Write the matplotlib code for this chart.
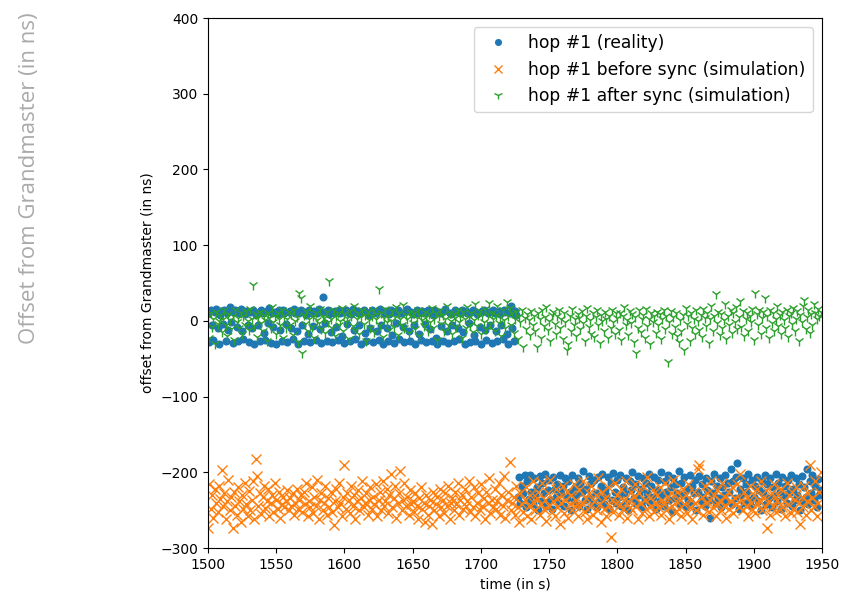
import matplotlib
matplotlib.use("Agg")
import matplotlib.pyplot as plt

# ---- data ----
t_start, t_end = 1500, 1950
times = list(range(t_start, t_end))

reality = [
    # 1500-1726 (around 0)
    10, -28, 14, -6, -25, 12, 16, -10, -30, 8, 13, -4, 15, -27, 11, -12, 18, -2, -29, 12, 14, -8, -26, 10, 16, -14, -24, 9, 13, -5,
    -28, 12, -10, 15, -30, 8, 11, -6, -27, 14, 10, -16, -25, 13, -3, 17, -29, 11, -8, 12, -31, 9, 14, -12, -26, 15, 10, -4, -28, 12,
    13, -9, -24, 16, 11, -14, -30, 10, 14, -5, -27, 12, 8, -18, 15, -28, 11, -7, 13, -25, 10, 16, -11, -29, 32, 12, -3, -26, 14, 9,
    -15, -28, 11, 13, -8, -25, 15, 10, -20, 12, -29, 14, -4, 11, -27, 9, 16, -12, -24, 13, 10, -6, -30, 12, 15, -16, -26, 11, 8, -9,
    14, -28, 12, 10, -13, -25, 16, -5, -31, 11, 13, -10, -27, 9, 15, -19, -29, 12, -3, 14, -24, 10, 11, -8, -28, 13, 16, -14, -26, 12,
    9, -6, -30, 14, 11, -17, -25, 13, 10, -4, -28, 15, 12, -11, -27, 8, 14, -22, -31, 12, 10, -7, -26, 13, 16, -13, -29, 11, 9, -5,
    -27, 14, 12, -10, -24, 11, 15, -15, -30, 13, 10, -3, -28, 12, 14, -19, -26, 9, 11, -8, -31, 13, 15, -12, -25, 10, 12, -6, -29, 14,
    11, -14, -27, 13, 9, -5, -24, 15, 12, -18, -30, 10, 20, -9, -26, 13, 8,
    # 1727-1949 (around -222)
    -232, -206, -240, -218, -228, -203, -246, -212, -235, -204, -226, -242, -208, -230, -220, -250, -205, -238, -214, -228, -202, -244, -224, -210, -236, -248, -206, -222, -232, -215,
    -240, -204, -228, -218, -245, -207, -234, -212, -226, -250, -203, -238, -220, -230, -208, -244, -216, -226, -198, -236, -222, -248, -205, -232, -214, -240, -210, -228, -246, -206,
    -234, -218, -202, -242, -224, -230, -206, -248, -214, -236, -201, -226, -240, -210, -232, -204, -244, -220, -228, -207, -238, -250, -212, -224, -199, -234, -216, -242, -205, -230,
    -222, -246, -208, -236, -214, -228, -202, -240, -218, -232, -206, -248, -224, -210, -238, -200, -230, -244, -212, -226, -204, -236, -220, -252, -208, -234, -216, -228, -198, -242,
    -214, -230, -206, -246, -222, -236, -203, -240, -218, -228, -210, -250, -226, -205, -238, -215, -232, -244, -207, -224, -236, -260, -212, -228, -202, -240, -218, -234, -208, -246,
    -220, -230, -204, -238, -214, -226, -196, -242, -212, -234, -206, -188, -248, -222, -230, -208, -240, -216, -226, -202, -236, -244, -210, -232, -218, -206, -238, -224, -250, -212,
    -228, -204, -242, -216, -234, -208, -246, -220, -230, -202, -238, -214, -226, -248, -206, -232, -218, -240, -210, -228, -203, -244, -222, -236, -207, -230, -215, -250, -205, -238,
    -220, -232, -196, -242, -212, -228, -204, -236, -218, -246, -209, -230, -224,
]

before_sync = [
    -273, -215, -248, -230, -260, -222, -240, -252, -218, -235, -197, -245, -228, -262, -238, -210, -250, -232, -273, -226, -244, -256, -220, -238, -266, -230, -248, -214, -242, -258,
    -225, -250, -236, -212, -262, -183, -205, -244, -228, -255, -232, -218, -247, -238, -222, -258, -240, -230, -252, -214, -236, -248, -226, -260, -242, -232, -246, -238, -224, -250,
    -234, -244, -228, -256, -240, -222, -248, -236, -230, -252, -226, -242, -214, -258, -238, -246, -220, -254, -232, -244, -210, -262, -236, -228, -250, -240, -218, -256, -234, -246,
    -226, -252, -269, -238, -222, -246, -214, -240, -258, -232, -191, -248, -228, -236, -254, -218, -244, -230, -262, -238, -224, -250, -234, -212, -246, -240, -228, -256, -236, -220,
    -248, -232, -242, -216, -258, -236, -226, -250, -212, -244, -238, -222, -254, -230, -202, -246, -234, -218, -260, -240, -228, -198, -250, -236, -214, -244, -232, -256, -224, -242,
    -238, -252, -228, -244, -262, -234, -220, -248, -240, -266, -230, -256, -244, -236, -268, -226, -250, -242, -232, -258, -222, -246, -236, -254, -228, -244, -218, -262, -240, -234,
    -250, -226, -242, -214, -256, -236, -230, -248, -222, -244, -238, -212, -252, -232, -246, -220, -258, -240, -228, -250, -216, -244, -234, -262, -226, -240, -208, -254, -236, -246,
    -222, -248, -238, -214, -256, -230, -244, -205, -260, -236, -226, -187, -250, -240, -232, -256, -218, -246, -266, -228, -242, -252, -236, -220, -258, -244, -230, -262, -212, -240,
    -250, -234, -226, -256, -242, -214, -248, -236, -264, -228, -244, -210, -252, -238, -258, -222, -246, -232, -268, -240, -218, -254, -236, -226, -260, -242, -230, -250, -216, -244,
    -236, -258, -224, -246, -240, -212, -252, -234, -262, -228, -244, -218, -256, -238, -230, -250, -208, -242, -266, -226, -248, -234, -258, -220, -244, -286, -236, -252, -214, -240,
    -230, -256, -242, -222, -248, -236, -212, -260, -238, -246, -226, -250, -232, -216, -244, -262, -228, -240, -254, -218, -236, -248, -206, -258, -234, -244, -224, -252, -240, -230,
    -246, -220, -256, -236, -242, -214, -250, -232, -262, -228, -244, -210, -252, -238, -226, -248, -236, -258, -222, -242, -230, -254, -216, -246, -236, -262, -226, -240, -250, -196,
    -191, -244, -232, -256, -218, -240, -228, -252, -236, -212, -246, -230, -258, -224, -242, -236, -250, -214, -244, -232, -260, -226, -248, -238, -220, -254, -234, -242, -216, -246,
    -202, -236, -250, -226, -244, -232, -258, -218, -240, -248, -230, -254, -222, -242, -236, -212, -250, -234, -246, -224, -273, -238, -256, -228, -244, -216, -252, -236, -230, -248,
    -222, -246, -238, -258, -214, -242, -230, -254, -226, -248, -236, -220, -252, -240, -268, -232, -246, -218, -256, -238, -228, -191, -250, -234, -244, -212, -258, -240, -226, -200,
]

after_sync = [
    5, -22, 10, -8, 2, -30, 12, -4, 0, 8, -15, 3, 14, -6, -20, 9, 1, -11, 6, -25, 15, -2, 4, -9, 11, -18, 7, -5, 13, 0,
    -12, 16, 3, 47, -7, 9, -21, 5, 12, -3, -14, 8, 1, -26, 10, 4, -9, 18, -1, 6, -17, 11, 2, -5, 14, -23, 7, -10, 3, 12,
    -6, 9, -19, 15, 0, 5, -28, 37, 30, -42, 8, -4, 13, -13, 2, 19, -8, 6, -22, 10, 1, -3, 16, -11, 7, 4, -16, 12, -1, 52,
    3, -9, 14, -20, 6, 11, -5, 0, 17, -14, 9, -2, 4, -24, 13, 7, -7, 20, -12, 2, 10, -18, 5, 15, -4, 8, -27, 12, 1, -10,
    6, 14, -15, 3, 9, 42, -6, 11, -21, 4, 16, -2, 7, -12, 0, 13, -8, 5, 18, -19, 10, 2, -5, 21, -10, 8, 3, -16, 12, 6,
    -3, 10, -11, 4, 15, -20, 7, 1, -7, 12, 5, -14, 9, -1, 17, -9, 3, 11, -25, 6, 14, -4, 8, -13, 2, 19, -6, 10, 0, -17,
    9, 4, -8, 15, -2, 7, -22, 12, 3, -10, 18, 5, -5, 10, -15, 1, 22, -7, 8, 13, -18, 6, -1, 16, -11, 9, 24, -4, 11, 2,
    -13, 8, 20, -3, 5, -20, 14, 1, -9, 25, 6, 17, -6, 10, -16, 3, 12, -24, 7, -2, 15, -34, 4, -11, 9, 1, -19, 13, -5, 6,
    -14, -34, 10, 2, -22, 14, -7, 5, 18, -12, 0, -27, 8, 12, -4, -18, 6, 15, -9, 3, -24, 11, -1, -38, -30, 7, -13, 16, -6, 2,
    -20, 9, 4, -11, 13, -3, -26, 7, 17, -8, 1, -17, 10, -21, 5, 14, -5, -29, 8, 0, -14, 12, 3, -23, 6, -9, 15, -2, -18, 10,
    4, -12, 11, -25, 7, 18, -6, 1, -19, 13, -3, 9, -28, 5, -42, -10, 14, -15, 2, 8, -22, 16, -7, 3, -31, 11, -1, 6, -16, 12,
    -5, 9, -24, 2, 15, -11, 7, -54, -2, 13, -18, 5, -8, 10, -20, -28, 1, -13, 8, -38, 17, -4, 6, -26, 11, -9, 3, -17, 14, 0,
    -12, 8, -21, 16, 4, -7, 11, -29, 2, 19, -14, 6, 36, -3, 12, -19, 9, -10, 1, 22, -24, 7, -5, 14, -16, 10, -2, 18, -11, 5,
    26, -8, 13, -20, 3, 11, -14, 7, -1, 16, -25, 37, 9, -6, 15, -17, 4, 12, 30, -10, 6, -23, 14, -3, 10, -13, 2, 19, -7, 8,
    -18, 12, 1, -9, 15, -21, 6, 10, -4, 17, -14, 3, 13, -27, 8, -2, 20, 28, -11, 5, 14, -16, 9, -6, 22, 11, 3, 16, 7, 12,
]

labels = ["hop #1 (reality)", "hop #1 before sync (simulation)", "hop #1 after sync (simulation)"]
colors = ["#1f77b4", "#ff7f0e", "#2ca02c"]
x_ticks = [1500, 1550, 1600, 1650, 1700, 1750, 1800, 1850, 1900, 1950]
y_ticks = [-300, -200, -100, 0, 100, 200, 300, 400]

# ---- figure ----
fig = plt.figure(figsize=(8.46, 6.03), dpi=100)
ax = fig.add_axes([208 / 846, 1 - 548 / 603, (822 - 208) / 846, (548 - 18) / 603])

ax.plot(times, reality, linestyle="none", marker="o", markersize=4.8, color=colors[0], label=labels[0])
ax.plot(times, before_sync, linestyle="none", marker="x", markersize=6.5, color=colors[1], label=labels[1])
ax.plot(times, after_sync, linestyle="none", marker="1", markersize=7.5, color=colors[2], label=labels[2])

ax.set_xlim(t_start, t_end)
ax.set_ylim(-300, 400)
ax.set_xticks(x_ticks)
ax.set_yticks(y_ticks)
ax.set_xlabel("time (in s)")
ax.set_ylabel("offset from Grandmaster (in ns)")
ax.legend(loc="upper right", fontsize=12.3, borderaxespad=0.55, markerscale=0.85)

fig.text(30 / 846, 1 - 178 / 603, "Offset from Grandmaster (in ns)", rotation=90,
         ha="center", va="center", color="#aaaaaa", fontsize=16, family="Open Sans")

fig.savefig("out.png", dpi=100)
